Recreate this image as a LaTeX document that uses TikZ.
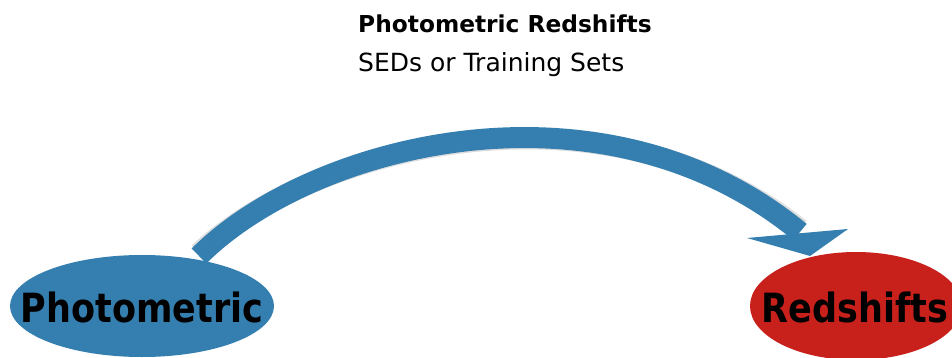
\documentclass[tikz,border=0pt]{standalone}
\usepackage{fontspec}
\setmainfont{DejaVu Sans}
\usetikzlibrary{shapes.geometric}
\begin{document}
\begin{tikzpicture}[x=1pt,y=-1pt,
  titletext/.style={anchor=base west,inner sep=0pt,font=\fontsize{25}{30}\selectfont},
  bubble/.style={ellipse,inner sep=0pt},
  bigword/.style={inner sep=0pt,text=black,font=\bfseries\fontsize{35}{40}\selectfont},
  band/.style={line width=21pt,draw=arrowblue},
  shadow/.style={line width=21pt,draw=black,opacity=0.13}]
\definecolor{arrowblue}{RGB}{52,127,175}
\definecolor{ellblue}{RGB}{52,127,175}
\definecolor{ellred}{RGB}{200,33,28}
\useasboundingbox (0,0) rectangle (952,358);
% title texts
\node[titletext,font=\bfseries\fontsize{23.3}{28}\selectfont] (t1) at (358,33) {Photometric Redshifts};
\node[titletext] (t2) at (358,72) {SEDs or Training Sets};
% endpoints of the connector
\coordinate (s) at (199,256);
\coordinate (e) at (800,232);
% curved band with a soft shadow
\draw[shadow] ([yshift=3pt]s) .. controls (310,148) and (600,71) .. ([yshift=3pt]e);
\draw[band] (s) .. controls (310,145) and (600,68) .. (e);
% arrow head
\coordinate (hl) at (747,238);
\coordinate (hr) at (848,229);
\coordinate (ht) at (810,256);
\fill[arrowblue] (hl) -- (hr) -- (ht) -- cycle;
% ellipses
\node[bubble,fill=ellblue,minimum width=264pt,minimum height=102pt] (photo) at (142,306) {};
\node[bigword,anchor=base] (photot) at (142,322) {\scalebox{1}[1.15]{Photometric}};
\node[bubble,fill=ellred,minimum width=212pt,minimum height=108pt] (red) at (856,306) {};
\node[bigword,anchor=base] (redt) at (855,322) {\scalebox{1}[1.15]{Redshifts}};
\end{tikzpicture}
\end{document}
